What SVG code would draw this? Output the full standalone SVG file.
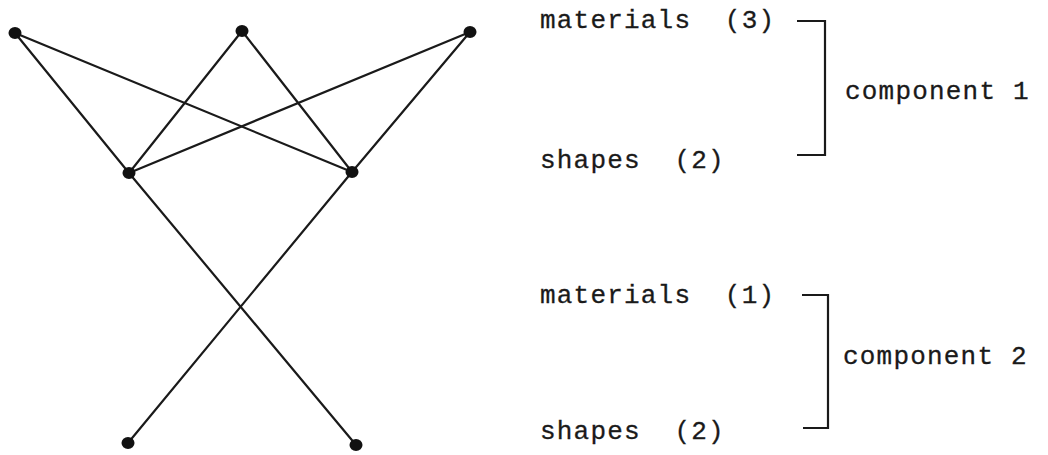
<svg xmlns="http://www.w3.org/2000/svg" width="1048" height="455" viewBox="0 0 1048 455">
<style>
.e{stroke:#1a1a1a;stroke-width:2.2;fill:none;stroke-linecap:round}
.n{fill:#111}
.t{font-family:"Liberation Mono","Courier New",monospace;font-size:26px;fill:#1a1a1a;letter-spacing:1.2px;stroke:#1a1a1a;stroke-width:0.3}
.b{stroke:#1a1a1a;stroke-width:2.2;fill:none}
</style>
<rect width="1048" height="455" fill="#fff"/>
<g id="connectors">
<line class="e" x1="15" y1="33" x2="352" y2="172"/>
<line class="e" x1="15" y1="33" x2="129" y2="173"/>
<line class="e" x1="242" y1="31" x2="129" y2="173"/>
<line class="e" x1="242" y1="31" x2="352" y2="172"/>
<line class="e" x1="470" y1="32" x2="129" y2="173"/>
<line class="e" x1="470" y1="32" x2="352" y2="172"/>
<line class="e" x1="129" y1="173" x2="356" y2="445"/>
<line class="e" x1="352" y1="172" x2="128" y2="443"/>
</g>
<g id="n1"><ellipse class="n" cx="15" cy="33" rx="6.5" ry="6"/></g>
<g id="n2"><ellipse class="n" cx="242" cy="31" rx="6.5" ry="6"/></g>
<g id="n3"><ellipse class="n" cx="470" cy="32" rx="6.5" ry="6"/></g>
<g id="n4"><ellipse class="n" cx="129" cy="173" rx="6.5" ry="6"/></g>
<g id="n5"><ellipse class="n" cx="352" cy="172" rx="6.5" ry="6"/></g>
<g id="n6"><ellipse class="n" cx="128" cy="443" rx="6.5" ry="6"/></g>
<g id="n7"><ellipse class="n" cx="356" cy="445" rx="6.5" ry="6"/></g>
<g id="legend">
<text class="t" x="540" y="28" xml:space="preserve">materials  (3)</text>
<text class="t" x="540" y="168" xml:space="preserve">shapes  (2)</text>
<text class="t" x="845" y="99">component 1</text>
<path class="b" d="M797 21 H825 V155 H797"/>
<text class="t" x="540" y="303" xml:space="preserve">materials  (1)</text>
<text class="t" x="540" y="439" xml:space="preserve">shapes  (2)</text>
<text class="t" x="843" y="364">component 2</text>
<path class="b" d="M802 295 H828 V428 H803"/>
</g>
</svg>
